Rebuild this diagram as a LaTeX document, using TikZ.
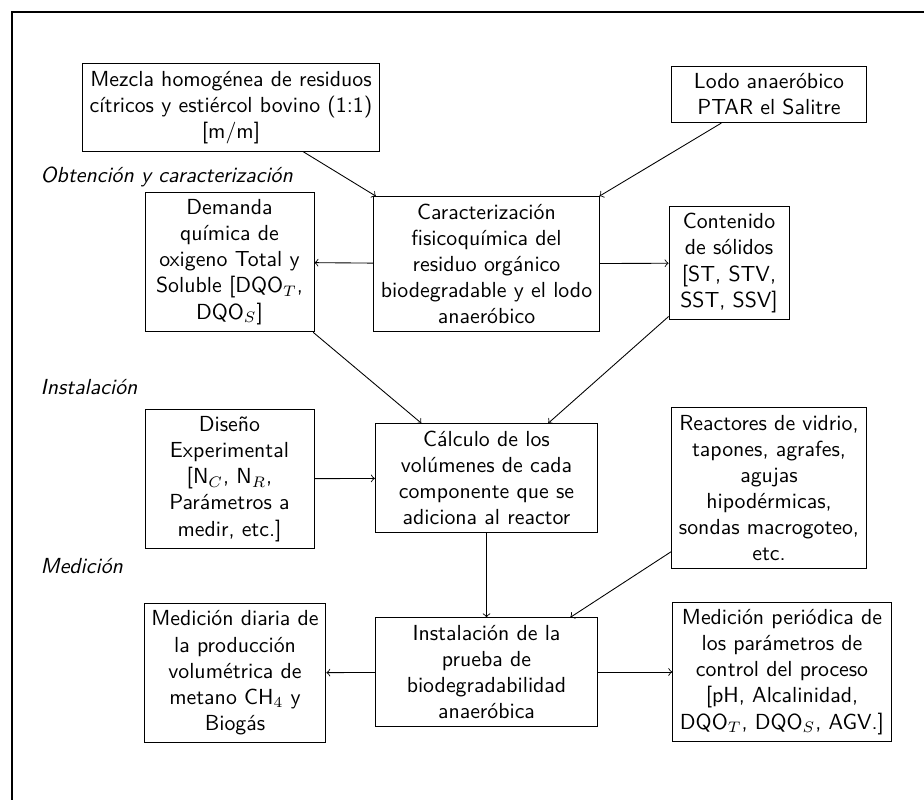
\documentclass[tikz,border=0pt]{standalone}
\usetikzlibrary{arrows}
\begin{document}
\begin{tikzpicture}[x=0.4587pt,y=-0.4587pt,
    caja/.style={draw,align=center,font=\sffamily},
    colA/.style={caja,minimum width=77.5pt},
    colB/.style={caja,minimum width=102pt},
    etapa/.style={anchor=west,font=\sffamily\itshape},
    flecha/.style={->}]
   \useasboundingbox (0,0) rectangle (924,800);
   \draw[line width=0.8pt] (12,800) -- (12,12) -- (924,12);
   \node[caja] (mezcla) at (231,107.5) {Mezcla homogénea de residuos\\ cítricos y estiércol bovino (1:1)\\ {[m/m]}};
   \node[caja,minimum width=89.2pt] (lodo) at (769,94.5) {Lodo anaeróbico\\ PTAR el Salitre};
   \node[etapa] (obtencion) at (33,177) {Obtención y caracterización};
   \node[colA] (demanda) at (229.5,262) {Demanda\\ química de\\ oxigeno Total y\\ Soluble [DQO$_T$,\\ DQO$_S$]};
   \node[colB] (caract) at (486.5,264) {Caracterización\\ fisicoquímica del\\ residuo orgánico\\ biodegradable y el lodo\\ anaeróbico};
   \node[caja,minimum width=55pt] (contenido) at (729,263) {Contenido\\ de sólidos\\ {[ST, STV,}\\ SST, SSV]};
   \node[etapa] (instal) at (33,387) {Instalación};
   \node[colA] (diseno) at (229.5,479) {Diseño\\ Experimental\\ {[N$_C$, N$_R$,}\\ Parámetros a\\ medir, etc.]};
   \node[colB] (calculo) at (486.5,478) {Cálculo de los\\ volúmenes de cada\\ componente que se\\ adiciona al reactor};
   \node[caja] (reactores) at (769,488) {Reactores de vidrio,\\ tapones, agrafes,\\ agujas\\ hipodérmicas,\\ sondas macrogoteo,\\ etc.};
   \node[etapa] (medicion) at (33,566) {Medición};
   \node[caja] (diaria) at (235,673) {Medición diaria de\\ la producción\\ volumétrica de\\ metano CH$_4$ y\\ Biogás};
   \node[colB] (prueba) at (486.5,672) {Instalación de la\\ prueba de\\ biodegradabilidad\\ anaeróbica};
   \node[caja] (periodica) at (782,672) {Medición periódica de\\ los parámetros de\\ control del proceso\\ {[pH, Alcalinidad,}\\ DQO$_T$, DQO$_S$, AGV.]};
   \draw[flecha] (mezcla) -- (caract);
   \draw[flecha] (lodo) -- (caract);
   \draw[flecha] (caract) -- (demanda);
   \draw[flecha] (caract) -- (contenido);
   \draw[flecha] (demanda) -- (calculo);
   \draw[flecha] (contenido) -- (calculo);
   \draw[flecha] (diseno) -- (calculo);
   \draw[flecha] (calculo) -- (prueba);
   \draw[flecha] (reactores) -- (prueba);
   \draw[flecha] (prueba) -- (diaria);
   \draw[flecha] (prueba) -- (periodica);
\end{tikzpicture}
\end{document}
